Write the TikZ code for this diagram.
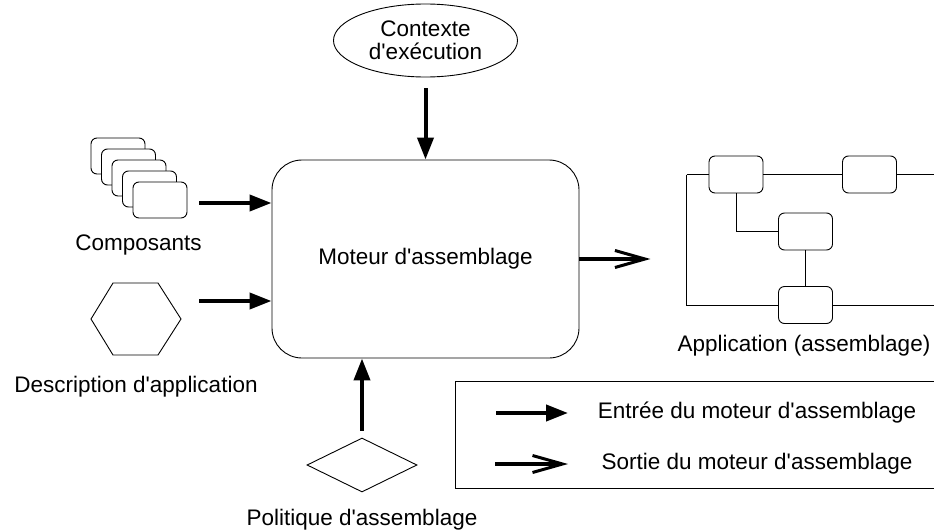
\documentclass[tikz,border=0pt]{standalone}
\usepackage{fontspec}
\setmainfont{Liberation Sans}[Ligatures=TeXOff]
\usetikzlibrary{arrows.meta, shapes.geometric, calc}
\tikzset{
    my-comp-box/.style={
        draw, fill=white, rounded corners=6pt, minimum width=54pt, minimum height=36pt, line width=0.9pt
    },
    my-app-box/.style={
        draw, fill=white, rounded corners=6pt, minimum width=54pt, minimum height=37pt, line width=0.9pt
    },
    my-in-arrow/.style={
        line width=4pt, -{Triangle[length=22pt, width=16pt]}
    },
    my-out-arrow/.style={
        line width=4pt, -{Straight Barb[length=30pt, width=17pt, line width=3pt]}
    },
    my-wire/.style={
        line width=0.9pt
    },
}

\begin{document}
\begin{tikzpicture}[x=1pt, y=-1pt, font=\fontsize{22.5}{23.5}\selectfont]

        \useasboundingbox (0,0) rectangle (934,530);
        \clip (0,0) rectangle (934,530);

        % ASSEMBLY ENGINE
        \node[draw, line width=0.9pt, rounded corners=30pt, minimum width=307pt, minimum height=198pt] (MOTEUR) at (425.5, 259) {Moteur d'assemblage};

        % EXECUTION CONTEXT
        \node[draw, ellipse, line width=0.9pt, minimum width=184pt, minimum height=73pt, inner sep=0pt, align=center] (CTX) at (425.5, 40.5) {Contexte\\d'exécution};
        \coordinate[] (CTXOUT) at ($(CTX.south) + (0, 11)$);
        \draw[my-in-arrow] (CTXOUT) -- (MOTEUR.north);

        % COMPONENTS
        \node[my-comp-box] (COMP1) at (118, 156)                 {};
        \node[my-comp-box] (COMP2) at ($(COMP1) + (10.5, 11)$)   {};
        \node[my-comp-box] (COMP3) at ($(COMP2) + (10.5, 11)$)   {};
        \node[my-comp-box] (COMP4) at ($(COMP3) + (10.5, 11)$)   {};
        \node[my-comp-box] (COMP5) at ($(COMP4) + (10.5, 11)$)   {};
        \node[anchor=base] (COMPLBL) at (138.5, 250) {Composants};
        \coordinate[]      (COMPOUT) at (199, 203);
        \draw[my-in-arrow] (COMPOUT) -- (COMPOUT -| MOTEUR.west);

        % APPLICATION DESCRIPTION
        \coordinate[] (HEX) at (136, 319);
        \draw[my-wire] ($(HEX) + (-45, 0)$) -- ($(HEX) + (-23, -36)$) -- ($(HEX) + (22, -36)$)
            -- ($(HEX) + (45, 0)$) -- ($(HEX) + (22, 36)$) -- ($(HEX) + (-23, 36)$) -- cycle;
        \node[anchor=base] (HEXLBL) at (136, 392) {Description d'application};
        \coordinate[]      (HEXOUT) at (199, 301);
        \draw[my-in-arrow] (HEXOUT) -- (HEXOUT -| MOTEUR.west);

        % ASSEMBLY POLICY
        \node[draw, diamond, line width=0.9pt, minimum width=110pt, minimum height=54pt, inner sep=0pt] (POL) at (362, 465) {};
        \node[anchor=base] (POLLBL) at (362, 525) {Politique d'assemblage};
        \coordinate[]      (POLOUT) at ($(POL.north) + (0, -7)$);
        \draw[my-in-arrow] (POLOUT) -- (POLOUT |- MOTEUR.south);

        % OUTPUT
        \coordinate[]       (OUT) at ($(MOTEUR.east) + (71, 0)$);
        \draw[my-out-arrow] (MOTEUR.east) -- (OUT);

        % APPLICATION (ASSEMBLY)
        \node[my-app-box] (APPA) at (736, 174.5)   {};
        \node[my-app-box] (APPB) at (869.5, 174.5) {};
        \node[my-app-box] (APPC) at (805.5, 231.5) {};
        \node[my-app-box] (APPD) at (805.5, 305)   {};
        \coordinate[]     (APPLEFT)  at ($(APPA.west) + (-22, 0)$);
        \coordinate[]     (APPRIGHT) at ($(APPB.east) + (50, 0)$);
        \draw[my-wire] (APPLEFT)   -- (APPA.west);
        \draw[my-wire] (APPA.east) -- (APPB.west);
        \draw[my-wire] (APPB.east) -- (APPRIGHT);
        \draw[my-wire] (APPA.south) |- (APPC.west);
        \draw[my-wire] (APPC.south) -- (APPD.north);
        \draw[my-wire] (APPLEFT) |- (APPD.west);
        \draw[my-wire] (APPD.east) -- (APPD.east -| APPRIGHT);
        \node[anchor=base] (APPLBL) at (804, 351) {Application (assemblage)};

        % LEGEND
        \draw[line width=0.9pt] (455, 381) rectangle (945, 488);
        \coordinate[] (LEGIN)  at (496, 413);
        \coordinate[] (LEGOUT) at (495, 464);
        \draw[my-in-arrow]  (LEGIN)  -- ++(72, 0);
        \draw[my-out-arrow] (LEGOUT) -- ++(73, 0);
        \node[anchor=base] (LEGINLBL)  at (757, 418) {Entrée du moteur d'assemblage};
        \node[anchor=base] (LEGOUTLBL) at (757, 469) {Sortie du moteur d'assemblage};

    \end{tikzpicture}
\end{document}
